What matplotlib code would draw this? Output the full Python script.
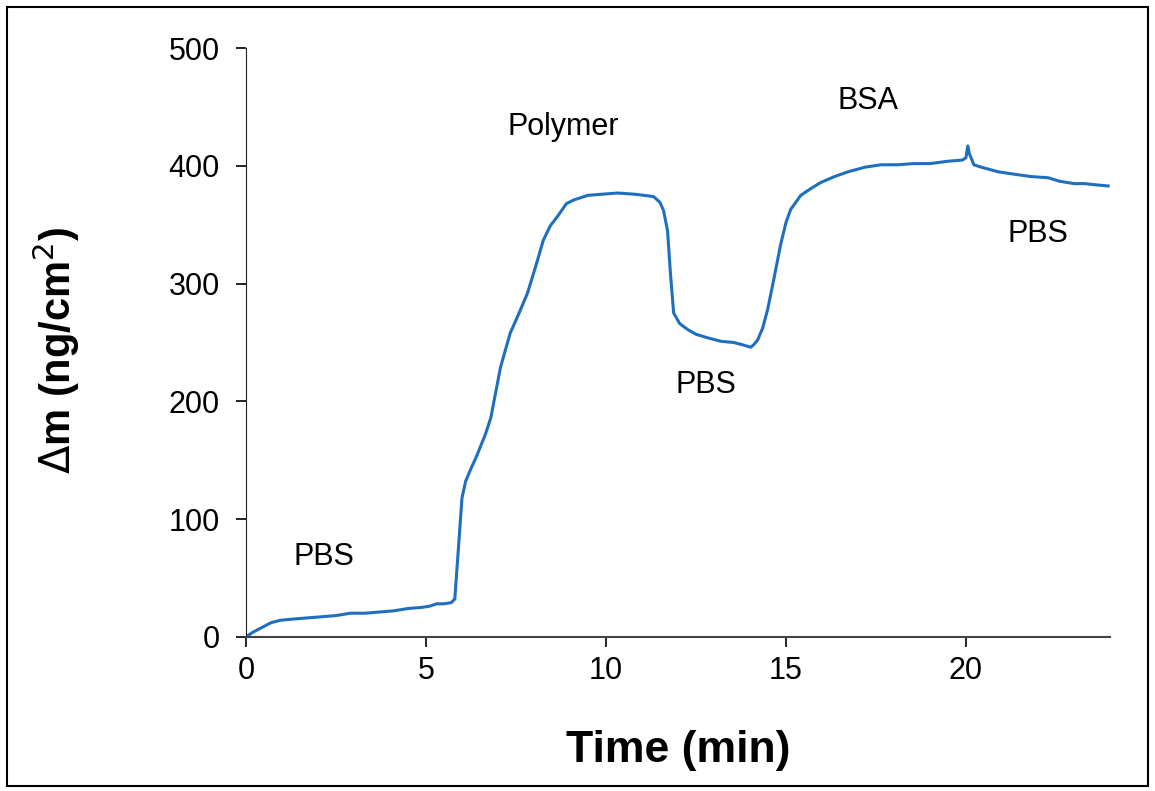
import matplotlib.pyplot as plt
import matplotlib
from matplotlib.patches import Rectangle

matplotlib.rcParams.update({'font.family': ['Liberation Sans', 'DejaVu Sans'], 'font.size': 22})

# time (min) and mass change (ng/cm2)
time = [0, 0.2, 0.45, 0.7, 0.95, 1.3, 1.7, 2.1, 2.5, 2.9, 3.3, 3.7, 4.1, 4.5, 4.9,
        5.1, 5.3, 5.5, 5.7, 5.8, 5.9, 6.0, 6.1, 6.25, 6.4, 6.65, 6.8, 7.07, 7.34,
        7.6, 7.82, 8.05, 8.26, 8.45, 8.65, 8.9, 9.1, 9.49, 9.9, 10.32, 10.8, 11.32,
        11.5, 11.6, 11.71, 11.79, 11.88, 12.05, 12.27, 12.5, 12.82, 13.2, 13.55,
        13.8, 14.02, 14.1, 14.21, 14.35, 14.49, 14.67, 14.85, 15.0, 15.13, 15.41,
        15.7, 15.97, 16.35, 16.72, 17.2, 17.64, 18.1, 18.55, 19.0, 19.5, 19.9,
        20.0, 20.05, 20.1, 20.22, 20.42, 20.9, 21.34, 21.8, 22.28, 22.6, 23.0,
        23.3, 23.6, 23.95]
mass = [0, 4, 8, 12, 14, 15, 16, 17, 18, 20, 20, 21, 22, 24, 25,
        26, 28, 28, 29, 32, 75, 118, 132, 143, 153, 172, 186, 229, 258,
        276, 292, 315, 337, 349, 357, 368, 371, 375, 376, 377, 376, 374,
        369, 362, 345, 309, 275, 266, 261, 257, 254, 251, 250,
        248, 246, 248, 252, 262, 278, 305, 333, 352, 363, 375,
        381, 386, 391, 395, 399, 401, 401, 402, 402, 404, 405,
        407, 417, 410, 401, 399, 395, 393, 391, 390, 387, 385,
        385, 384, 383]

labels = ["PBS", "Polymer", "PBS", "BSA", "PBS"]
label_x = [2.16, 8.82, 12.77, 17.27, 22.0]
label_y = [68, 433, 214, 455, 342]

fig = plt.figure()
fig.set_size_inches(11.55, 7.91)
ax = fig.add_axes([0.213, 0.195, 0.748, 0.744])

ax.plot(time, mass, '-', color='#1f6fc0', lw=2.2)
for t, x, y in zip(labels, label_x, label_y):
    ax.text(x, y, t, ha='center', va='center', fontsize=22)

ax.set_xlim(0, 24)
ax.set_ylim(0, 500)
ax.set_xticks([0, 5, 10, 15, 20])
ax.set_yticks([0, 100, 200, 300, 400, 500])
ax.spines['top'].set_visible(False)
ax.spines['right'].set_visible(False)
ax.spines['left'].set_color('#222222')
ax.spines['bottom'].set_color('#444444')
ax.spines['bottom'].set_linewidth(1.5)
ax.tick_params(direction='out', length=7, width=1.2, labelsize=22)
ax.tick_params(axis='y', pad=12)
ax.tick_params(axis='x', pad=7)
ax.set_xlabel('Time (min)', fontsize=32, fontweight='bold')
ax.set_ylabel(r'$\Delta$m (ng/cm$^2$)', fontsize=30, fontweight='bold')
ax.xaxis.set_label_coords(0.5, -0.158)
ax.yaxis.set_label_coords(-0.19, 0.486)

fig.patches.append(Rectangle((7/1155, 5/791), 1141/1155, 779/791, transform=fig.transFigure,
                             fill=False, edgecolor='black', lw=1.5))

plt.savefig('out.png', dpi=100)
